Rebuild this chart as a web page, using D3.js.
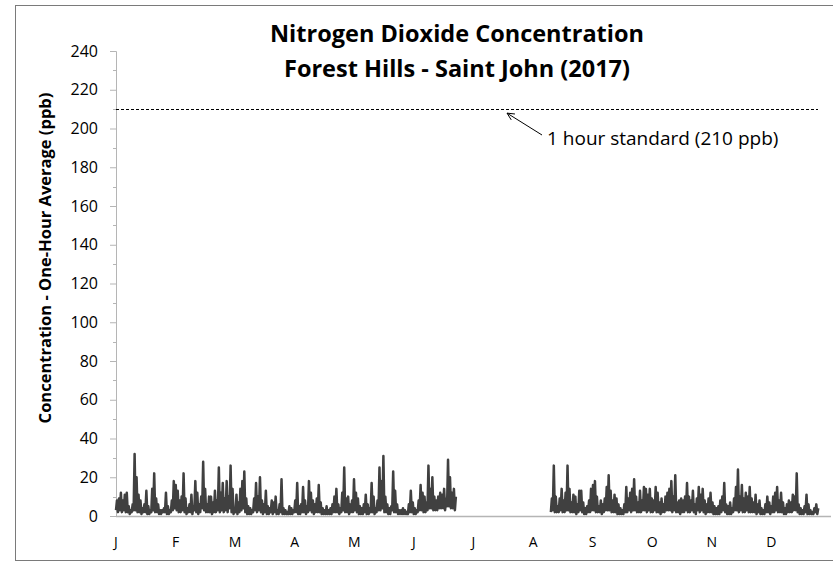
<!DOCTYPE html>
<html>
<head>
<meta charset="utf-8">
<script src="https://cdn.jsdelivr.net/npm/d3@7"></script>
<style>
  body { margin: 0; background: #fff; }
  text { font-family: "Open Sans", "DejaVu Sans", sans-serif; fill: #000; }
</style>
</head>
<body>
<div id="chart"></div>
<script>
// Valeurs (ppb, max et min par jour)
const months = ["J", "F", "M", "A", "M", "J", "J", "A", "S", "O", "N", "D"]
const yTicks = [0, 20, 40, 60, 80, 100, 120, 140, 160, 180, 200, 220, 240]
const standard = 210
const standardLabel = "1 hour standard (210 ppb)"

// 1er janvier -> 23 juin (jour 0 a 173)
const start1 = 0
const hi1 = [8, 9, 12, 8, 11, 12, 5, 3, 6, 32,
  20, 11, 8, 4, 6, 13, 5, 3, 14, 22,
  9, 6, 3, 3, 4, 12, 5, 3, 8, 18,
  16, 13, 8, 10, 22, 9, 4, 6, 11, 5,
  18, 12, 6, 10, 28, 14, 6, 10, 10, 7,
  13, 8, 25, 12, 17, 9, 18, 10, 26, 14,
  4, 11, 7, 14, 18, 23, 9, 5, 4, 3,
  9, 17, 10, 20, 8, 6, 13, 5, 4, 8,
  7, 10, 3, 6, 19, 4, 3, 2, 5, 4,
  3, 8, 17, 5, 6, 15, 8, 5, 18, 12,
  8, 6, 9, 16, 7, 4, 3, 5, 3, 4,
  6, 10, 14, 6, 4, 12, 25, 9, 10, 6,
  8, 19, 12, 9, 5, 4, 6, 11, 6, 4,
  17, 10, 4, 8, 25, 18, 31, 10, 6, 4,
  5, 23, 13, 6, 3, 3, 4, 3, 2, 6,
  13, 7, 4, 3, 8, 16, 12, 10, 7, 26,
  14, 20, 10, 8, 10, 12, 11, 14, 9, 29,
  20, 12, 14, 10]
const lo1 = [3, 2, 3, 2, 3, 2, 2, 1, 2, 3,
  3, 2, 2, 1, 2, 2, 1, 1, 2, 3,
  2, 2, 1, 1, 2, 2, 1, 1, 2, 3,
  4, 3, 2, 2, 3, 2, 1, 2, 2, 1,
  3, 2, 1, 2, 4, 3, 2, 2, 2, 1,
  2, 2, 3, 2, 3, 2, 3, 2, 4, 2,
  1, 2, 1, 2, 3, 4, 2, 1, 1, 1,
  2, 3, 2, 3, 2, 1, 2, 1, 1, 2,
  1, 2, 1, 1, 2, 1, 1, 1, 1, 1,
  1, 2, 2, 1, 1, 2, 2, 1, 2, 3,
  2, 1, 2, 2, 2, 1, 1, 1, 1, 1,
  1, 2, 2, 2, 1, 2, 3, 2, 2, 1,
  2, 2, 3, 2, 1, 1, 1, 2, 1, 1,
  2, 2, 1, 2, 3, 3, 4, 2, 2, 1,
  1, 3, 2, 2, 1, 1, 1, 1, 1, 1,
  2, 2, 1, 1, 2, 3, 3, 2, 2, 3,
  4, 4, 3, 3, 3, 4, 4, 4, 3, 5,
  5, 4, 4, 3]

// 10 aout -> 24 decembre (jour 222 a 358)
const start2 = 222
const hi2 = [9, 26, 10, 5, 9, 14, 8, 12, 26, 14,
  7, 11, 10, 6, 13, 13, 7, 4, 5, 8,
  14, 16, 18, 10, 5, 8, 6, 9, 15, 21,
  13, 8, 11, 9, 6, 4, 3, 6, 15, 9,
  12, 14, 19, 10, 7, 13, 8, 15, 14, 11,
  14, 9, 8, 15, 12, 7, 9, 6, 10, 12,
  14, 18, 10, 21, 7, 8, 9, 8, 10, 17,
  10, 8, 13, 6, 9, 15, 11, 14, 8, 6,
  9, 12, 7, 5, 4, 5, 8, 10, 17, 6,
  5, 7, 4, 9, 15, 24, 10, 16, 9, 12,
  10, 15, 9, 7, 11, 6, 8, 4, 3, 6,
  10, 7, 5, 10, 12, 15, 8, 12, 7, 4,
  6, 8, 7, 11, 10, 22, 6, 4, 3, 5,
  11, 6, 3, 2, 4, 6, 4]
const lo2 = [2, 3, 2, 2, 2, 3, 2, 2, 3, 3,
  2, 2, 2, 1, 2, 3, 2, 1, 1, 2,
  2, 3, 3, 2, 2, 2, 1, 2, 3, 3,
  3, 2, 2, 2, 1, 1, 1, 1, 2, 2,
  3, 2, 3, 3, 2, 2, 2, 3, 3, 2,
  3, 2, 2, 3, 2, 2, 1, 2, 2, 3,
  3, 3, 2, 3, 2, 2, 1, 2, 2, 3,
  2, 2, 3, 2, 1, 3, 2, 3, 2, 1,
  2, 2, 2, 1, 1, 1, 1, 2, 3, 2,
  1, 1, 1, 2, 3, 3, 2, 3, 2, 2,
  3, 2, 2, 2, 2, 1, 2, 1, 1, 1,
  2, 2, 1, 2, 2, 3, 2, 2, 2, 1,
  1, 2, 2, 2, 3, 3, 2, 1, 1, 1,
  2, 1, 1, 1, 1, 2, 1]

const width = 833, height = 562
const plotLeft = 116, plotRight = 831, plotTop = 51, plotBottom = 516

const svg = d3.select("#chart")
  .append("svg")
    .attr("width", width)
    .attr("height", height)

// cadre du graphique (coupe a droite)
svg.append("rect")
  .attr("x", 15.5).attr("y", 5.5)
  .attr("width", 900).attr("height", 555)
  .attr("fill", "none")
  .attr("stroke", "#7a7a7a")
  .attr("stroke-width", 1)

const x = d3.scaleLinear().domain([0, 365]).range([plotLeft, plotRight])
const xm = d3.scaleLinear().domain([0, 12]).range([plotLeft, plotRight])
const y = d3.scaleLinear().domain([0, 240]).range([plotBottom, plotTop])

// Axe Y
const yAxis = svg.append("g")
  .attr("transform", `translate(${plotLeft},0)`)
  .call(d3.axisLeft(y).tickValues(yTicks).tickSize(6).tickPadding(12))
yAxis.select(".domain").attr("stroke", "#b5b5b5")
yAxis.selectAll(".tick line").attr("stroke", "#b5b5b5")
yAxis.selectAll(".tick text")
  .style("font-size", "16px")
  .style("font-family", "'Open Sans', sans-serif")
  .attr("fill", "#000")

// petits traits intermediaires
svg.append("g")
  .selectAll("line")
  .data(d3.range(10, 240, 20))
  .join("line")
    .attr("x1", plotLeft - 3).attr("x2", plotLeft)
    .attr("y1", d => Math.round(y(d)) + 0.5)
    .attr("y2", d => Math.round(y(d)) + 0.5)
    .attr("stroke", "#b5b5b5")

// Axe X
svg.append("line")
  .attr("x1", plotLeft).attr("x2", plotRight)
  .attr("y1", plotBottom + 0.5).attr("y2", plotBottom + 0.5)
  .attr("stroke", "#b5b5b5")
  .attr("stroke-width", 1.5)

svg.append("g")
  .selectAll("text")
  .data(months)
  .join("text")
    .attr("x", (d, i) => xm(i))
    .attr("y", 547)
    .attr("text-anchor", "middle")
    .style("font-size", "14px")
    .text(d => d)

// Donnees : zigzag min/max par jour
const segments = [
  {start: start1, hi: hi1, lo: lo1},
  {start: start2, hi: hi2, lo: lo2}
]
const line = d3.line()
  .x(d => x(d[0]))
  .y(d => y(d[1]))

segments.forEach(s => {
  const pts = []
  s.hi.forEach((h, i) => {
    const d = s.start + i
    pts.push([d, s.lo[i]])
    pts.push([d + 0.5, h])
  })
  svg.append("path")
    .datum(pts)
    .attr("d", line)
    .attr("fill", "none")
    .attr("stroke", "#404040")
    .attr("stroke-width", 2.5)
    .attr("stroke-linejoin", "round")
})

// Norme horaire
svg.append("line")
  .attr("x1", plotLeft).attr("x2", 818)
  .attr("y1", Math.round(y(standard)) + 0.5)
  .attr("y2", Math.round(y(standard)) + 0.5)
  .attr("stroke", "#000")
  .attr("stroke-width", 1)
  .attr("stroke-dasharray", "3,2")

const ax = 507, ay = y(standard) + 4
const bx = 542, by = 135
svg.append("line")
  .attr("x1", bx).attr("y1", by).attr("x2", ax).attr("y2", ay)
  .attr("stroke", "#000").attr("stroke-width", 1)
const ang = Math.atan2(by - ay, bx - ax)
;[0.45, -0.45].forEach(a => {
  svg.append("line")
    .attr("x1", ax).attr("y1", ay)
    .attr("x2", ax + 8 * Math.cos(ang + a))
    .attr("y2", ay + 8 * Math.sin(ang + a))
    .attr("stroke", "#000").attr("stroke-width", 1)
})
svg.append("text")
  .attr("x", 547)
  .attr("y", 145)
  .style("font-size", "19px")
  .text(standardLabel)

// Titres
svg.append("text")
  .attr("x", 457).attr("y", 42)
  .attr("text-anchor", "middle")
  .style("font-size", "23.5px")
  .style("font-weight", "bold")
  .text("Nitrogen Dioxide Concentration")
svg.append("text")
  .attr("x", 457).attr("y", 77)
  .attr("text-anchor", "middle")
  .style("font-size", "23.5px")
  .style("font-weight", "bold")
  .text("Forest Hills - Saint John (2017)")

svg.append("text")
  .attr("transform", `translate(51,258) rotate(-90)`)
  .attr("text-anchor", "middle")
  .style("font-size", "16.5px")
  .style("font-weight", "bold")
  .text("Concentration - One-Hour Average (ppb)")
</script>
</body>
</html>
